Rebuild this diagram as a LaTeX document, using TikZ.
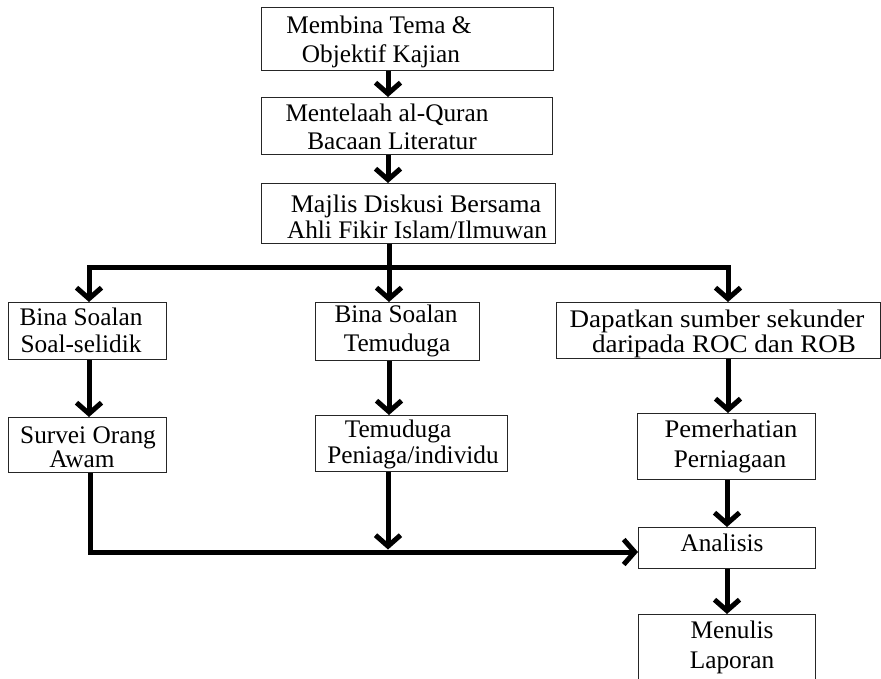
\documentclass[tikz,border=0pt]{standalone}
\usepackage{fontspec}
\setmainfont{Liberation Serif}
\usetikzlibrary{arrows.meta}
\begin{document}
\begin{tikzpicture}[x=1pt,y=-1pt,
  box/.style={draw=black!85, line width=1.3pt, inner sep=0pt, anchor=north west},
  txt/.style={font=\fontsize{25.3}{30}\selectfont, inner sep=0pt, anchor=base},
  conn/.style={line width=5pt, line join=miter, -{Straight Barb[length=11pt,width=25pt]}},
  plain/.style={line width=5pt, line join=miter}]
\useasboundingbox (0,0) rectangle (881,678);
\clip (0,0) rectangle (881,678);
% boxes
\node[box, minimum width=292pt, minimum height=63pt] (b1) at (261,7) {};
\node[box, minimum width=291pt, minimum height=57pt] (b2) at (261,97) {};
\node[box, minimum width=294pt, minimum height=60pt] (b3) at (261,183) {};
\node[box, minimum width=158pt, minimum height=57pt] (b5) at (8,302) {};
\node[box, minimum width=164pt, minimum height=58pt] (b6) at (315,302) {};
\node[box, minimum width=324pt, minimum height=56pt] (b7) at (556,302) {};
\node[box, minimum width=158pt, minimum height=55pt] (b8) at (8,417) {};
\node[box, minimum width=192pt, minimum height=56pt] (b9) at (315,415) {};
\node[box, minimum width=178pt, minimum height=66pt] (b10) at (637,413) {};
\node[box, minimum width=177pt, minimum height=41pt] (b11) at (638,527) {};
\node[box, minimum width=177pt, minimum height=90pt] (b12) at (638,614) {};
% texts
\node[txt] (t1a) at (379,33) {Membina Tema \&};
\node[txt] (t1b) at (381,62) {Objektif Kajian};
\node[txt] (t2a) at (387,121) {Mentelaah al-Quran};
\node[txt] (t2b) at (392,149) {Bacaan Literatur};
\node[txt] (t3a) at (416,212) {\scalebox{1.03}[1]{Majlis Diskusi Bersama}};
\node[txt] (t3b) at (417,238) {Ahli Fikir Islam/Ilmuwan};
\node[txt] (t5a) at (81,325) {Bina Soalan};
\node[txt] (t5b) at (81,352) {Soal-selidik};
\node[txt] (t6a) at (396,322) {Bina Soalan};
\node[txt] (t6b) at (397,351) {Temuduga};
\node[txt] (t7a) at (717,327) {\scalebox{1.07}[1]{Dapatkan sumber sekunder}};
\node[txt] (t7b) at (724,352) {\scalebox{1.07}[1]{daripada ROC dan ROB}};
\node[txt] (t8a) at (88,443) {Survei Orang};
\node[txt] (t8b) at (82,467) {Awam};
\node[txt] (t9a) at (398,437) {Temuduga};
\node[txt] (t9b) at (413,463) {Peniaga/individu};
\node[txt] (t10a) at (731,437) {\scalebox{1.05}[1]{Pemerhatian}};
\node[txt] (t10b) at (730,467) {Perniagaan};
\node[txt] (t11) at (722,551) {Analisis};
\node[txt] (t12a) at (732,638) {Menulis};
\node[txt] (t12b) at (732,668) {Laporan};
% connector coordinates
\coordinate (xA) at (388,0);
\coordinate (j) at (389,267);
\coordinate (jl) at (89,267);
\coordinate (jr) at (728,267);
\coordinate (xL) at (89,0);
\coordinate (xR) at (727,0);
\coordinate (bl) at (90,552);
\coordinate (bm) at (388,552);
% connectors
\draw[conn] (b1.south -| xA) -- (b2.north -| xA);
\draw[conn] (b2.south -| xA) -- (b3.north -| xA);
\draw[conn] (b3.south -| j) -- (j) -- (b6.north -| j);
\draw[conn] (j) -- (jl) -- (b5.north -| jl);
\draw[conn] (j) -- (jr) -- (b7.north -| jr);
\draw[conn] (b5.south -| xL) -- (b8.north -| xL);
\draw[conn] (b6.south -| j) -- (b9.north -| j);
\draw[conn] (b7.south -| jr) -- (b10.north -| jr);
\draw[conn] (b8.south -| bl) -- (bl) -- (b11.west |- bl);
\draw[conn, shorten >=2.5pt] (b9.south -| bm) -- (bm);
\draw[conn] (b10.south -| xR) -- (b11.north -| xR);
\draw[conn] (b11.south -| xR) -- (b12.north -| xR);
\end{tikzpicture}
\end{document}
